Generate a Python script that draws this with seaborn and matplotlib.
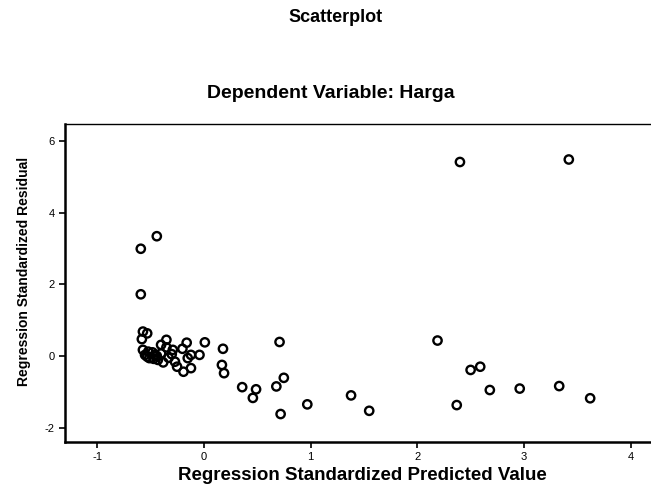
import matplotlib
matplotlib.use("Agg")
import matplotlib.pyplot as plt
import seaborn as sns
import pandas as pd

# values
predicted = [
    -0.44, -0.59, -0.59,
    -0.57, -0.53, -0.58, -0.35, -0.40, -0.16, 0.01, 0.18, -0.20, -0.29,
    -0.57, -0.52, -0.55, -0.51, -0.43, -0.38, -0.46, -0.40, -0.12, -0.04,
    -0.15, -0.27, -0.25, -0.19, -0.12, 0.17, 0.19, 0.36, 0.49, 0.46,
    -0.48, -0.44, -0.53, -0.47, -0.35, -0.33, -0.30,
    0.71, 0.68, 0.75, 0.72, 0.97, 1.38,
    2.40, 3.42, 2.19, 2.50, 2.59, 2.68, 2.96, 3.33, 3.62, 2.37, 1.55,
]
residual = [
    3.34, 2.99, 1.72,
    0.68, 0.63, 0.47, 0.45, 0.31, 0.37, 0.38, 0.20, 0.20, 0.17,
    0.17, 0.12, 0.03, -0.06, -0.11, -0.18, 0.03, 0.07, 0.03, 0.03,
    -0.06, -0.16, -0.30, -0.44, -0.34, -0.25, -0.48, -0.87, -0.93, -1.17,
    0.10, 0.00, -0.02, -0.08, 0.24, -0.05, 0.05,
    0.39, -0.85, -0.61, -1.62, -1.35, -1.10,
    5.41, 5.48, 0.43, -0.39, -0.30, -0.95, -0.91, -0.84, -1.18, -1.37, -1.53,
]
x_ticks = [-1, 0, 1, 2, 3, 4]
y_ticks = [-2, 0, 2, 4, 6]

df = pd.DataFrame({"pred": predicted, "resid": residual})

sns.set_style("ticks")
plt.rcParams["font.family"] = ["Liberation Sans", "DejaVu Sans"]
plt.rcParams["axes.unicode_minus"] = False
plt.rcParams["text.color"] = "black"
plt.rcParams["axes.labelcolor"] = "black"

fig = plt.figure(figsize=(6.51, 4.87), dpi=100)
ax = fig.add_axes([65 / 651, 45 / 487, 586 / 651, 318 / 487])

sns.scatterplot(data=df, x="pred", y="resid", ax=ax, marker="o", s=36,
                facecolor="none", edgecolor="black", linewidth=1.7)

ax.set_xlim(-1.3, 4.19)
ax.set_ylim(-2.4, 6.47)
ax.set_xticks(x_ticks)
ax.set_yticks(y_ticks)
ax.tick_params(axis="both", direction="out", length=4, width=1.2,
               labelsize=8, colors="black")

for side in ["left", "bottom"]:
    ax.spines[side].set_linewidth(1.8)
    ax.spines[side].set_color("black")
ax.spines["top"].set_visible(True)
ax.spines["top"].set_linewidth(1.0)
ax.spines["top"].set_color("black")
ax.spines["right"].set_visible(False)

ax.set_xlabel("Regression Standardized Predicted Value", fontsize=13.5,
              fontweight="bold")
ax.xaxis.set_label_coords(0.507, -0.104)
ax.xaxis.label.set_va("center")
ax.set_ylabel("Regression Standardized Residual", fontsize=10,
              fontweight="bold")
ax.yaxis.set_label_coords(-0.07, 0.535)
ax.yaxis.label.set_va("center")

fig.text(336 / 651, 1 - 18 / 487, "Scatterplot", ha="center", va="center",
         fontsize=13, fontweight="bold")
fig.text(331 / 651, 1 - 93 / 487, "Dependent Variable: Harga", ha="center",
         va="center", fontsize=14, fontweight="bold")

fig.savefig("out.png", dpi=100)
